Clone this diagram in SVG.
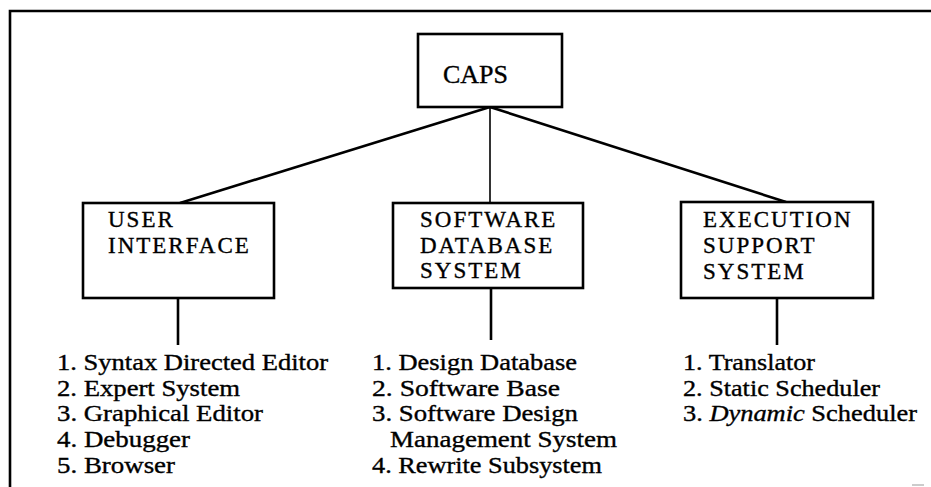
<svg xmlns="http://www.w3.org/2000/svg" width="931" height="487" viewBox="0 0 931 487">
  <style>
    .box { fill: #fff; stroke: #000; stroke-width: 2.6; }
    .frame { fill: none; stroke: #000; stroke-width: 2.6; }
    .link { fill: none; stroke: #000; stroke-width: 2.6; }
    .thin { stroke-width: 1.6; }
    text { font-family: "Liberation Serif", "Times New Roman", serif; fill: #000; stroke: #000; stroke-width: 0.35; }
    .title { font-size: 26px; }
    .label { font-size: 23px; letter-spacing: 2px; }
    .item { font-size: 23px; }
  </style>

  <rect width="931" height="487" fill="#fff"/>

  <!-- outer frame: top and left edges only -->
  <path class="frame" d="M10 487 V11 H931"/>
  <line x1="912" y1="485" x2="924" y2="485" stroke="#ccc" stroke-width="2"/>

  <!-- connectors -->
  <g id="connectors">
    <line class="link" x1="490" y1="107" x2="180" y2="203"/>
    <line class="link thin" x1="490" y1="107" x2="490" y2="203"/>
    <line class="link" x1="490" y1="107" x2="786" y2="202"/>
    <line class="link" x1="178" y1="298" x2="178" y2="345"/>
    <line class="link" x1="491" y1="288" x2="491" y2="340"/>
    <line class="link" x1="777" y1="298" x2="777" y2="345"/>
  </g>

  <!-- root -->
  <g id="caps">
    <rect class="box" x="418" y="34" width="144" height="73"/>
    <text class="title" x="443" y="83">CAPS</text>
  </g>

  <!-- subsystems -->
  <g id="user-interface">
    <rect class="box" x="83" y="203" width="191" height="95"/>
    <text class="label" x="108" y="227">USER</text>
    <text class="label" x="108" y="253">INTERFACE</text>
  </g>

  <g id="software-database-system">
    <rect class="box" x="393" y="203" width="190" height="85"/>
    <text class="label" x="420" y="227">SOFTWARE</text>
    <text class="label" x="420" y="253">DATABASE</text>
    <text class="label" x="420" y="278">SYSTEM</text>
  </g>

  <g id="execution-support-system">
    <rect class="box" x="681" y="202" width="192" height="96"/>
    <text class="label" x="703" y="227">EXECUTION</text>
    <text class="label" x="703" y="253">SUPPORT</text>
    <text class="label" x="703" y="279">SYSTEM</text>
  </g>

  <!-- component lists -->
  <g id="user-interface-items">
    <text class="item" x="57" y="370" textLength="271" lengthAdjust="spacingAndGlyphs">1. Syntax Directed Editor</text>
    <text class="item" x="57" y="396" textLength="183" lengthAdjust="spacingAndGlyphs">2. Expert System</text>
    <text class="item" x="57" y="421" textLength="206" lengthAdjust="spacingAndGlyphs">3. Graphical Editor</text>
    <text class="item" x="57" y="447" textLength="133" lengthAdjust="spacingAndGlyphs">4. Debugger</text>
    <text class="item" x="57" y="473" textLength="118" lengthAdjust="spacingAndGlyphs">5. Browser</text>
  </g>

  <g id="software-database-items">
    <text class="item" x="372" y="370" textLength="205" lengthAdjust="spacingAndGlyphs">1. Design Database</text>
    <text class="item" x="372" y="396" textLength="188" lengthAdjust="spacingAndGlyphs">2. Software Base</text>
    <text class="item" x="372" y="421" textLength="206" lengthAdjust="spacingAndGlyphs">3. Software Design</text>
    <text class="item" x="390" y="447" textLength="227" lengthAdjust="spacingAndGlyphs">Management System</text>
    <text class="item" x="372" y="473" textLength="230" lengthAdjust="spacingAndGlyphs">4. Rewrite Subsystem</text>
  </g>

  <g id="execution-support-items">
    <text class="item" x="683" y="370" textLength="132" lengthAdjust="spacingAndGlyphs">1. Translator</text>
    <text class="item" x="683" y="396" textLength="197" lengthAdjust="spacingAndGlyphs">2. Static Scheduler</text>
    <text class="item" x="683" y="421" textLength="234" lengthAdjust="spacingAndGlyphs">3. <tspan font-style="italic">Dynamic</tspan> Scheduler</text>
  </g>
</svg>
